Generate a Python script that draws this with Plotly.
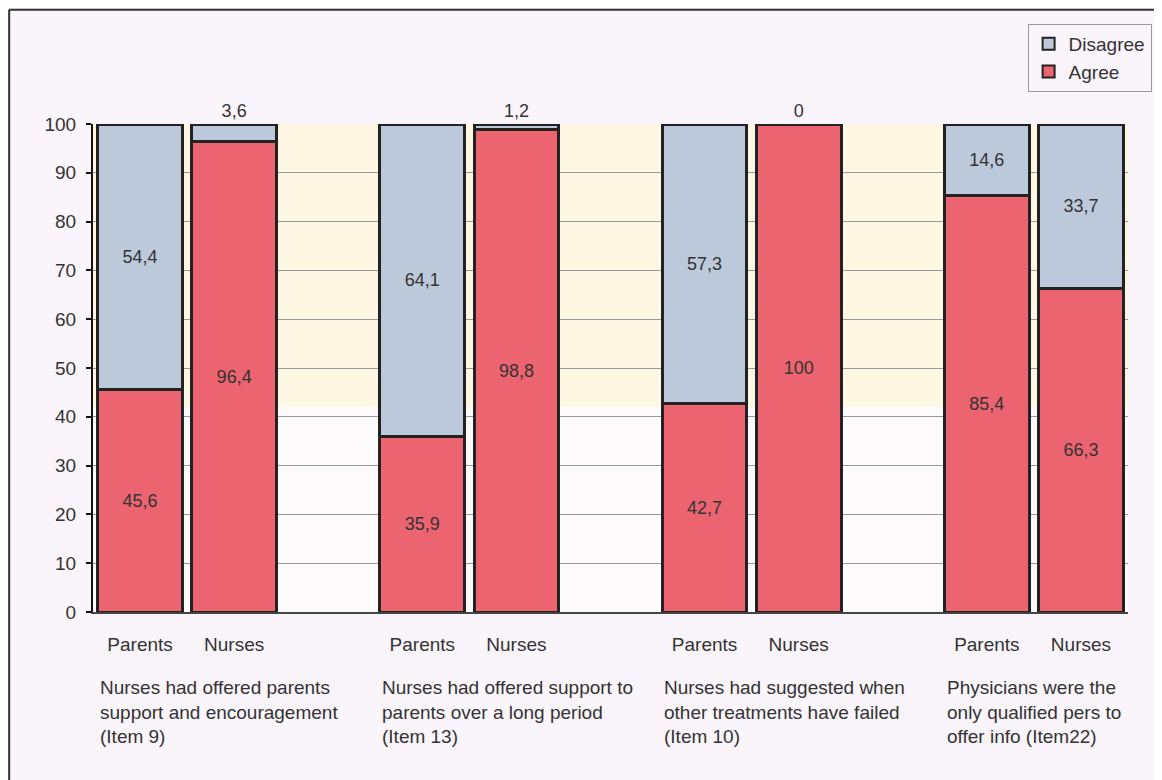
import plotly.graph_objects as go

# data
groups = [
    "Nurses had offered parents<br>support and encouragement<br>(Item 9)",
    "Nurses had offered support to<br>parents over a long period<br>(Item 13)",
    "Nurses had suggested when<br>other treatments have failed<br>(Item 10)",
    "Physicians were the<br>only qualified pers to<br>offer info (Item22)",
]
respondents = ["Parents", "Nurses"]
agree = [45.6, 96.4, 35.9, 98.8, 42.7, 100, 85.4, 66.3]
disagree = [54.4, 3.6, 64.1, 1.2, 57.3, 0, 14.6, 33.7]

RED = "#EC6470"
BLUE = "#BCC9DA"
FONT = "Liberation Sans, Arial, sans-serif"


def fmt(v):
    if float(v).is_integer():
        return str(int(v))
    return f"{v:.1f}".replace(".", ",")


# bar positions: two bars per group, one empty slot between groups
xpos = [g * 3 + i for g in range(len(groups)) for i in range(len(respondents))]
ticktext = respondents * len(groups)

fig = go.Figure()
fig.add_trace(go.Bar(
    x=xpos, y=agree, name="Agree",
    marker=dict(color=RED, line=dict(color="#222222", width=3)),
    width=0.9,
    text=[fmt(v) for v in agree],
    textposition="inside", insidetextanchor="middle",
    textfont=dict(color="#333333", size=18, family=FONT),
    constraintext="none",
))
fig.add_trace(go.Bar(
    x=xpos, y=disagree, name="Disagree",
    marker=dict(color=BLUE, line=dict(color="#222222", width=3)),
    width=0.9,
    text=[fmt(v) for v in disagree],
    textposition=["outside" if v < 5 else "inside" for v in disagree],
    insidetextanchor="middle",
    textfont=dict(color="#333333", size=18, family=FONT),
    constraintext="none",
    cliponaxis=False,
))

# pale cream band behind the upper half of the plot
fig.add_shape(type="rect", xref="paper", yref="y", x0=0, x1=1, y0=42, y1=100,
              fillcolor="#FFF6E4", line=dict(width=0), layer="below")

# frame lines (top and left edges of the scanned figure)
fig.add_shape(type="line", xref="paper", yref="paper",
              x0=-0.081, x1=1.05, y0=1.234, y1=1.234,
              line=dict(color="#333333", width=2))
fig.add_shape(type="line", xref="paper", yref="paper",
              x0=-0.081, x1=-0.081, y0=1.234, y1=-0.36,
              line=dict(color="#333333", width=2))

for g, label in enumerate(groups):
    fig.add_annotation(
        x=g * 3 - 0.45, y=-0.13, xref="x", yref="paper",
        text=label, showarrow=False, align="left",
        xanchor="left", yanchor="top",
        font=dict(size=19, color="#333333", family=FONT),
    )

fig.update_layout(
    width=1162, height=780,
    barmode="stack",
    paper_bgcolor="#FAF5FA",
    plot_bgcolor="#FDFAFC",
    margin=dict(l=85, r=42, t=116, b=176),
    font=dict(family=FONT, size=18, color="#333333"),
    showlegend=True,
    legend=dict(
        x=0.903, y=1.205, xanchor="left", yanchor="top",
        traceorder="reversed",
        bgcolor="#FAF5FA", bordercolor="#999999", borderwidth=1,
        font=dict(size=19, color="#333333"),
        itemsizing="constant", itemwidth=30, tracegroupgap=0,
    ),
    xaxis=dict(
        range=[-0.5, 10.5], tickmode="array", tickvals=xpos, ticktext=ticktext,
        showgrid=False, zeroline=False, showline=True,
        linecolor="#444444", linewidth=2, ticks="", ticklabelstandoff=14,
        tickfont=dict(size=19, color="#333333"),
    ),
    yaxis=dict(
        range=[0, 100], dtick=10, showgrid=True, gridcolor="#999999", gridwidth=1,
        zeroline=False, showline=True, linecolor="#111111", linewidth=2,
        ticks="outside", ticklen=5, tickwidth=2, tickcolor="#111111",
        ticklabelstandoff=6,
        tickfont=dict(size=19, color="#333333"),
    ),
)

fig.write_html("out.html")
